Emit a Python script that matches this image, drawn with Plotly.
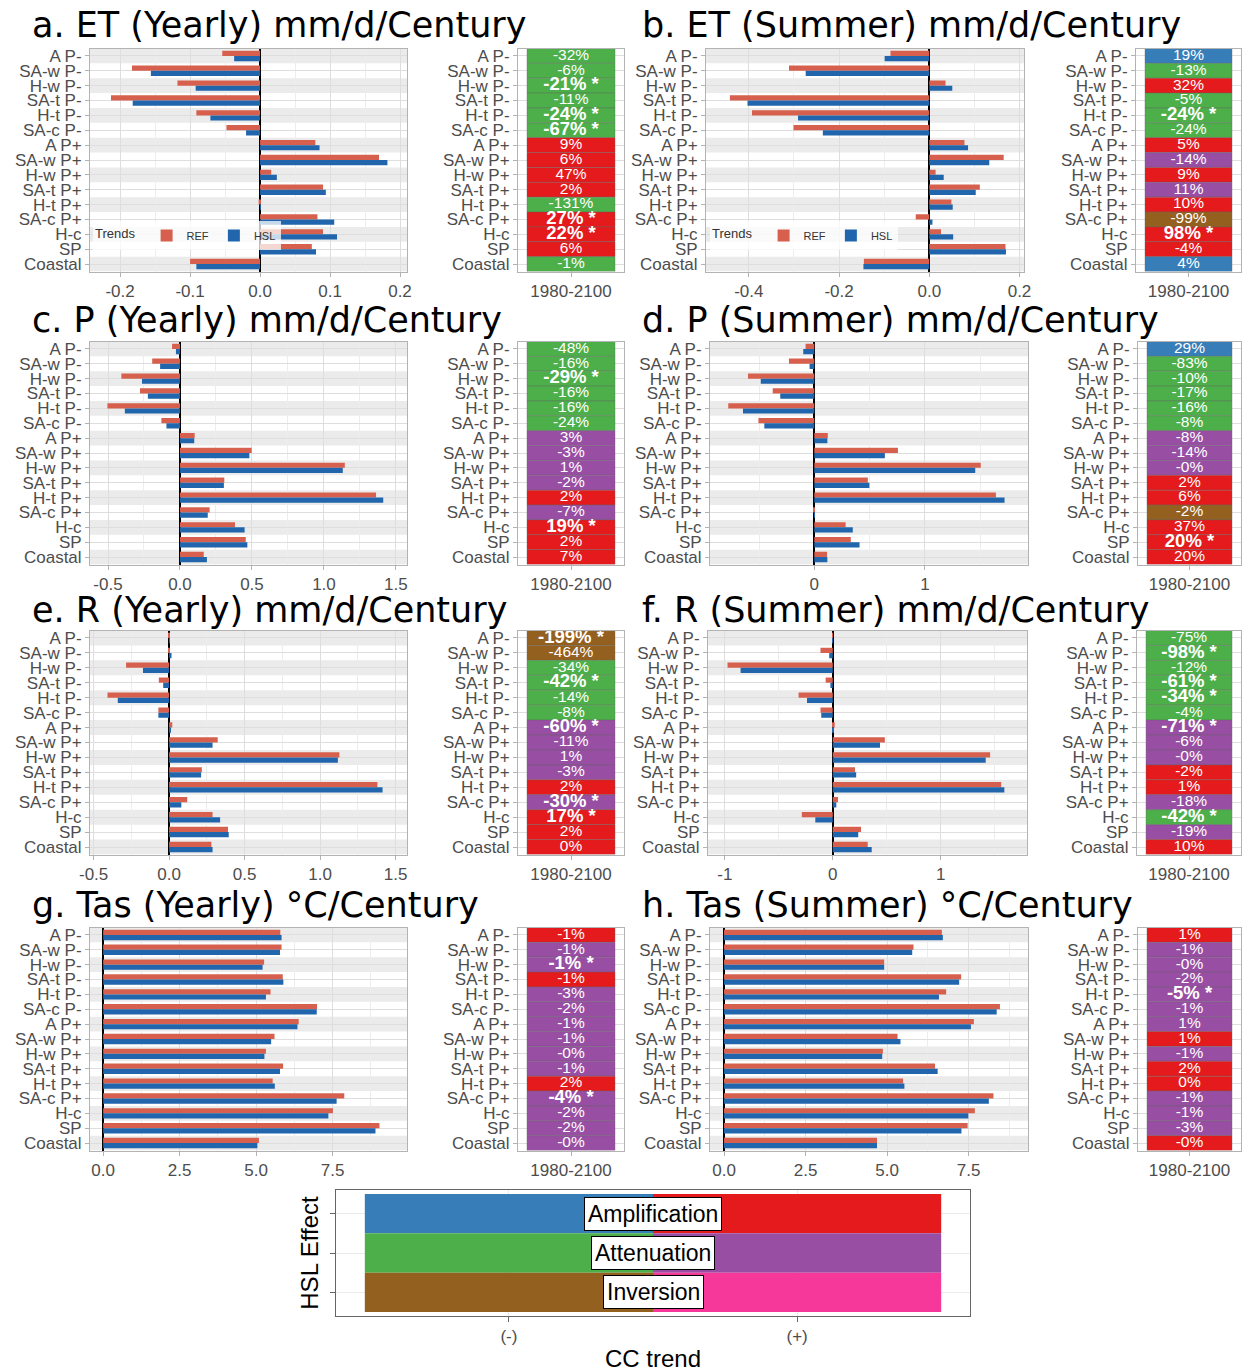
import plotly.graph_objects as go

W, H = 1242, 1372

categories = ["A P-", "SA-w P-", "H-w P-", "SA-t P-", "H-t P-", "SA-c P-",
              "A P+", "SA-w P+", "H-w P+", "SA-t P+", "H-t P+", "SA-c P+",
              "H-c", "SP", "Coastal"]
period_label = "1980-2100"

# ---- a. ET yearly ----
a_ref = [-0.054, -0.183, -0.118, -0.213, -0.091, -0.048, 0.079, 0.170, 0.016, 0.090, -0.002, 0.082, 0.090, 0.074, -0.100]
a_hsl = [-0.037, -0.156, -0.092, -0.182, -0.071, -0.020, 0.085, 0.182, 0.024, 0.094, 0.001, 0.106, 0.110, 0.080, -0.091]
a_pct = ["-32", "-6", "-21", "-11", "-24", "-67", "9", "6", "47", "2", "-131", "27", "22", "6", "-1"]
a_eff = ["G", "G", "G", "G", "G", "G", "R", "R", "R", "R", "G", "R", "R", "R", "G"]
a_sig = [0, 0, 1, 0, 1, 1, 0, 0, 0, 0, 0, 1, 1, 0, 0]

# ---- b. ET summer ----
b_ref = [-0.086, -0.311, 0.036, -0.442, -0.393, -0.301, 0.078, 0.165, 0.014, 0.112, 0.049, -0.030, 0.026, 0.169, -0.145]
b_hsl = [-0.099, -0.274, 0.051, -0.403, -0.291, -0.236, 0.086, 0.133, 0.032, 0.103, 0.052, 0.007, 0.053, 0.170, -0.146]
b_pct = ["19", "-13", "32", "-5", "-24", "-24", "5", "-14", "9", "11", "10", "-99", "98", "-4", "4"]
b_eff = ["B", "G", "R", "G", "G", "G", "R", "P", "R", "P", "R", "N", "R", "R", "B"]
b_sig = [0, 0, 0, 0, 1, 0, 0, 0, 0, 0, 0, 0, 1, 0, 0]

# ---- c. P yearly ----
c_ref = [-0.055, -0.193, -0.407, -0.278, -0.504, -0.129, 0.102, 0.498, 1.145, 0.308, 1.362, 0.206, 0.382, 0.457, 0.165]
c_hsl = [-0.028, -0.138, -0.264, -0.223, -0.383, -0.094, 0.099, 0.482, 1.131, 0.305, 1.412, 0.193, 0.449, 0.468, 0.187]
c_pct = ["-48", "-16", "-29", "-16", "-16", "-24", "3", "-3", "1", "-2", "2", "-7", "19", "2", "7"]
c_eff = ["G", "G", "G", "G", "G", "G", "P", "P", "P", "P", "R", "P", "R", "R", "R"]
c_sig = [0, 0, 1, 0, 0, 0, 0, 0, 0, 0, 0, 0, 1, 0, 0]

# ---- d. P summer ----
d_ref = [-0.079, -0.229, -0.599, -0.376, -0.778, -0.505, 0.122, 0.756, 1.505, 0.484, 1.642, -0.010, 0.283, 0.330, 0.115]
d_hsl = [-0.100, -0.043, -0.484, -0.308, -0.645, -0.452, 0.118, 0.638, 1.455, 0.498, 1.720, 0.002, 0.348, 0.409, 0.118]
d_pct = ["29", "-83", "-10", "-17", "-16", "-8", "-8", "-14", "-0", "2", "6", "-2", "37", "20", "20"]
d_eff = ["B", "G", "G", "G", "G", "G", "P", "P", "P", "R", "R", "N", "R", "R", "R"]
d_sig = [0, 0, 0, 0, 0, 0, 0, 0, 0, 0, 0, 0, 0, 1, 0]

# ---- e. R yearly ----
e_ref = [-0.002, -0.004, -0.285, -0.068, -0.408, -0.071, 0.021, 0.322, 1.128, 0.217, 1.380, 0.120, 0.288, 0.390, 0.280]
e_hsl = [0.002, 0.016, -0.173, -0.039, -0.340, -0.071, 0.008, 0.288, 1.118, 0.212, 1.414, 0.081, 0.338, 0.395, 0.288]
e_pct = ["-199", "-464", "-34", "-42", "-14", "-8", "-60", "-11", "1", "-3", "2", "-30", "17", "2", "0"]
e_eff = ["N", "N", "G", "G", "G", "G", "P", "P", "P", "P", "R", "P", "R", "R", "R"]
e_sig = [1, 0, 0, 1, 0, 0, 1, 0, 0, 0, 0, 1, 1, 0, 0]

# ---- f. R summer ----
f_ref = [-0.004, -0.114, -0.976, -0.066, -0.317, -0.114, 0.018, 0.483, 1.459, 0.206, 1.562, 0.048, -0.287, 0.262, 0.324]
f_hsl = [-0.001, -0.033, -0.855, -0.022, -0.239, -0.107, 0.005, 0.438, 1.418, 0.217, 1.591, 0.033, -0.162, 0.236, 0.361]
f_pct = ["-75", "-98", "-12", "-61", "-34", "-4", "-71", "-6", "-0", "-2", "1", "-18", "-42", "-19", "10"]
f_eff = ["G", "G", "G", "G", "G", "G", "P", "P", "P", "R", "R", "P", "G", "P", "R"]
f_sig = [0, 1, 0, 1, 1, 0, 1, 0, 0, 0, 0, 0, 1, 0, 0]

# ---- g. Tas yearly ----
g_ref = [5.79, 5.83, 5.26, 5.87, 5.47, 6.99, 6.39, 5.60, 5.32, 5.88, 5.54, 7.88, 7.51, 9.03, 5.09]
g_hsl = [5.83, 5.78, 5.21, 5.89, 5.32, 6.98, 6.35, 5.49, 5.27, 5.78, 5.61, 7.63, 7.36, 8.90, 5.04]
g_pct = ["-1", "-1", "-1", "-1", "-3", "-2", "-1", "-1", "-0", "-1", "2", "-4", "-2", "-2", "-0"]
g_eff = ["R", "P", "P", "R", "P", "P", "P", "P", "P", "P", "R", "P", "P", "P", "P"]
g_sig = [0, 0, 1, 0, 0, 0, 0, 0, 0, 0, 0, 1, 0, 0, 0]

# ---- h. Tas summer ----
h_ref = [6.68, 5.81, 4.91, 7.27, 6.81, 8.46, 7.66, 5.32, 4.87, 6.47, 5.49, 8.26, 7.69, 7.47, 4.69]
h_hsl = [6.71, 5.77, 4.91, 7.21, 6.59, 8.36, 7.57, 5.41, 4.85, 6.55, 5.53, 8.12, 7.49, 7.28, 4.69]
h_pct = ["1", "-1", "-0", "-2", "-5", "-1", "1", "1", "-1", "2", "0", "-1", "-1", "-3", "-0"]
h_eff = ["R", "P", "P", "P", "P", "P", "P", "R", "P", "R", "R", "P", "P", "P", "R"]
h_sig = [0, 0, 0, 0, 1, 0, 0, 0, 0, 0, 0, 0, 0, 0, 0]

# HSL effect legend
effects = ["Amplification", "Attenuation", "Inversion"]
cc_signs = ["(-)", "(+)"]
effect_codes = [["B", "R"], ["G", "P"], ["N", "K"]]

EFFECT_COLORS = {"B": "#377EB8", "R": "#E41A1C", "G": "#4DAF4A",
                 "P": "#984EA3", "N": "#94601F", "K": "#F5389A"}
REF_COLOR = "#D6604D"
HSL_COLOR = "#2166AC"

TICK_FONT = dict(family="Liberation Sans", size=17, color="#4D4D4D")
BORDER = "#B3B3B3"

panels = [
    dict(title="a. ET (Yearly) mm/d/Century", ref=a_ref, hsl=a_hsl, pct=a_pct, eff=a_eff, sig=a_sig,
         rng=[-0.243, 0.21], tv=[-0.2, -0.1, 0, 0.1, 0.2], tt=["-0.2", "-0.1", "0.0", "0.1", "0.2"], minor=0.05,
         bx=(90, 407), hx=(518, 624), row=0, tx=30, legend="legend"),
    dict(title="b. ET (Summer) mm/d/Century", ref=b_ref, hsl=b_hsl, pct=b_pct, eff=b_eff, sig=b_sig,
         rng=[-0.495, 0.21], tv=[-0.4, -0.2, 0, 0.2], tt=["-0.4", "-0.2", "0.0", "0.2"], minor=0.1,
         bx=(706, 1024), hx=(1136, 1241), row=0, tx=640, legend="legend2"),
    dict(title="c. P (Yearly) mm/d/Century", ref=c_ref, hsl=c_hsl, pct=c_pct, eff=c_eff, sig=c_sig,
         rng=[-0.625, 1.577], tv=[-0.5, 0, 0.5, 1, 1.5], tt=["-0.5", "0.0", "0.5", "1.0", "1.5"], minor=0.25,
         bx=(90, 407), hx=(518, 624), row=1, tx=30, legend=None),
    dict(title="d. P (Summer) mm/d/Century", ref=d_ref, hsl=d_hsl, pct=d_pct, eff=d_eff, sig=d_sig,
         rng=[-0.943, 1.932], tv=[0, 1], tt=["0", "1"], minor=0.5,
         bx=(710, 1028), hx=(1138, 1241), row=1, tx=640, legend=None),
    dict(title="e. R (Yearly) mm/d/Century", ref=e_ref, hsl=e_hsl, pct=e_pct, eff=e_eff, sig=e_sig,
         rng=[-0.524, 1.576], tv=[-0.5, 0, 0.5, 1, 1.5], tt=["-0.5", "0.0", "0.5", "1.0", "1.5"], minor=0.25,
         bx=(90, 407), hx=(518, 624), row=2, tx=30, legend=None),
    dict(title="f. R (Summer) mm/d/Century", ref=f_ref, hsl=f_hsl, pct=f_pct, eff=f_eff, sig=f_sig,
         rng=[-1.157, 1.801], tv=[-1, 0, 1], tt=["-1", "0", "1"], minor=0.5,
         bx=(708, 1027), hx=(1137, 1241), row=2, tx=640, legend=None),
    dict(title="g. Tas (Yearly) °C/Century", ref=g_ref, hsl=g_hsl, pct=g_pct, eff=g_eff, sig=g_sig,
         rng=[-0.43, 9.93], tv=[0, 2.5, 5, 7.5], tt=["0.0", "2.5", "5.0", "7.5"], minor=1.25,
         bx=(90, 407), hx=(518, 624), row=3, tx=30, legend=None),
    dict(title="h. Tas (Summer) °C/Century", ref=h_ref, hsl=h_hsl, pct=h_pct, eff=h_eff, sig=h_sig,
         rng=[-0.43, 9.32], tv=[0, 2.5, 5, 7.5], tt=["0.0", "2.5", "5.0", "7.5"], minor=1.25,
         bx=(710, 1028), hx=(1138, 1241), row=3, tx=640, legend=None),
]

ROW_Y = [(48.5, 271.5), (341.5, 564.5), (630.5, 854.5), (927.5, 1150.5)]
TITLE_Y = [25, 320, 610, 905]


def px_x(p):
    return p / W


def px_y(p):
    return 1 - p / H


def names(k):
    s = "" if k == 1 else str(k)
    return "xaxis" + s, "yaxis" + s, "x" + s, "y" + s


fig = go.Figure()
layout = {}
shapes = []
annotations = []
n = len(categories)
cat_idx = list(range(n))
k = 0

for p in panels:
    top, bot = ROW_Y[p["row"]]
    ydom = [px_y(bot), px_y(top)]

    # ---------- bar panel ----------
    k += 1
    xa, ya, xr, yr = names(k)
    layout[xa] = dict(domain=[px_x(p["bx"][0]), px_x(p["bx"][1])], anchor=yr, range=p["rng"],
                      automargin=False,
                      tickmode="array", tickvals=p["tv"], ticktext=p["tt"], tickfont=TICK_FONT,
                      showgrid=True, gridcolor="#DEDEDE", gridwidth=1,
                      minor=dict(tickmode="linear", tick0=0, dtick=p["minor"], showgrid=True,
                                 gridcolor="#EDEDED", gridwidth=0.6, ticks=""),
                      zeroline=True, zerolinecolor="black", zerolinewidth=2.2,
                      showline=True, mirror=True, linecolor=BORDER, linewidth=1,
                      ticks="outside", ticklen=4, tickcolor=BORDER, fixedrange=True)
    layout[ya] = dict(domain=ydom, anchor=xr, type="category", categoryorder="array",
                      categoryarray=categories, range=[n - 0.5, -0.5], tickfont=TICK_FONT,
                      automargin=False, tickmode="array", tickvals=categories, ticktext=categories,
                      showgrid=True, gridcolor="#DEDEDE", gridwidth=0.8,
                      showline=True, mirror=True, linecolor=BORDER, linewidth=1,
                      ticks="outside", ticklen=4, tickcolor=BORDER, fixedrange=True)
    for i in cat_idx[::2]:
        shapes.append(dict(type="rect", xref=xr + " domain", yref=yr, x0=0, x1=1,
                           y0=i - 0.5, y1=i + 0.5, fillcolor="#EBEBEB", line=dict(width=0),
                           layer="below"))
    show = p["legend"] is not None
    fig.add_trace(go.Bar(y=categories, x=p["ref"], orientation="h", name="REF",
                         marker=dict(color=REF_COLOR, line=dict(width=0)), xaxis=xr, yaxis=yr,
                         showlegend=show, legend=p["legend"] or "legend"))
    fig.add_trace(go.Bar(y=categories, x=p["hsl"], orientation="h", name="HSL",
                         marker=dict(color=HSL_COLOR, line=dict(width=0)), xaxis=xr, yaxis=yr,
                         showlegend=show, legend=p["legend"] or "legend"))

    annotations.append(dict(text=p["title"], xref="paper", yref="paper", x=px_x(p["tx"]),
                            y=px_y(TITLE_Y[p["row"]]), xanchor="left", yanchor="middle",
                            showarrow=False, font=dict(family="DejaVu Sans", size=35, color="black")))

    # ---------- percentage tile panel ----------
    k += 1
    xa, ya, xr, yr = names(k)
    hx0, hx1 = p["hx"]
    tile_w = (hx1 - hx0) - 18
    pad = 9 / tile_w
    layout[xa] = dict(domain=[px_x(hx0), min(px_x(hx1), 1)], anchor=yr, range=[-pad, 1 + pad],
                      automargin=False,
                      tickmode="array", tickvals=[0.5], ticktext=[period_label], tickfont=TICK_FONT,
                      showgrid=True, gridcolor="#DEDEDE", zeroline=False,
                      showline=True, mirror=True, linecolor=BORDER, linewidth=1,
                      ticks="outside", ticklen=4, tickcolor=BORDER, fixedrange=True)
    layout[ya] = dict(domain=ydom, anchor=xr, type="category", categoryorder="array",
                      categoryarray=categories, range=[n - 0.5, -0.5], tickfont=TICK_FONT,
                      automargin=False, tickmode="array", tickvals=categories, ticktext=categories,
                      showgrid=True, gridcolor="#DEDEDE",
                      showline=True, mirror=True, linecolor=BORDER, linewidth=1,
                      ticks="outside", ticklen=4, tickcolor=BORDER, fixedrange=True)
    fig.add_trace(go.Bar(y=categories, x=[1] * n, base=0, orientation="h", width=1,
                         marker=dict(color=[EFFECT_COLORS[e] for e in p["eff"]],
                                     line=dict(color="rgba(100,100,100,0.55)", width=0.7)),
                         xaxis=xr, yaxis=yr, showlegend=False, hoverinfo="skip"))
    norm_y = [c for c, s in zip(categories, p["sig"]) if not s]
    norm_t = [v + "%" for v, s in zip(p["pct"], p["sig"]) if not s]
    sig_y = [c for c, s in zip(categories, p["sig"]) if s]
    sig_t = ["<b>" + v + "% *</b>" for v, s in zip(p["pct"], p["sig"]) if s]
    fig.add_trace(go.Scatter(y=norm_y, x=[0.5] * len(norm_y), mode="text", text=norm_t,
                             textfont=dict(family="Liberation Sans", size=15.5, color="white"),
                             xaxis=xr, yaxis=yr, showlegend=False, hoverinfo="skip"))
    if sig_y:
        fig.add_trace(go.Scatter(y=sig_y, x=[0.5] * len(sig_y), mode="text", text=sig_t,
                                 textfont=dict(family="Liberation Sans", size=18.5, color="white"),
                                 xaxis=xr, yaxis=yr, showlegend=False, hoverinfo="skip"))

# ---------- HSL effect legend panel ----------
k += 1
xa, ya, xr, yr = names(k)
layout[xa] = dict(domain=[px_x(336), px_x(970)], anchor=yr, range=[0.4, 2.6], automargin=False,
                  tickmode="array", tickvals=[1, 2], ticktext=cc_signs, tickfont=TICK_FONT,
                  showgrid=True, gridcolor="#EBEBEB", zeroline=False,
                  showline=True, mirror=True, linecolor="#666666", linewidth=1,
                  ticks="outside", ticklen=5, tickcolor="#666666",
                  title=dict(text="CC trend", font=dict(family="Liberation Sans", size=24, color="black"),
                             standoff=4), fixedrange=True)
layout[ya] = dict(domain=[px_y(1316), px_y(1190)], anchor=xr, type="category", categoryorder="array",
                  categoryarray=effects, range=[2.6, -0.6], showticklabels=False, automargin=False,
                  showgrid=True, gridcolor="#EBEBEB",
                  showline=True, mirror=True, linecolor="#666666", linewidth=1,
                  ticks="outside", ticklen=5, tickcolor="#666666",
                  title=dict(text="HSL Effect", font=dict(family="Liberation Sans", size=24, color="black"),
                             standoff=4), fixedrange=True)
leg_y, leg_base, leg_col = [], [], []
for e, codes in zip(effects, effect_codes):
    for j, code in enumerate(codes):
        leg_y.append(e)
        leg_base.append(j + 0.5)
        leg_col.append(EFFECT_COLORS[code])
fig.add_trace(go.Bar(y=leg_y, x=[1] * len(leg_y), base=leg_base, orientation="h", width=1,
                     marker=dict(color=leg_col, line=dict(width=0)), xaxis=xr, yaxis=yr,
                     showlegend=False, hoverinfo="skip"))
for e in effects:
    annotations.append(dict(text=e, xref=xr, yref=yr, x=1.5, y=e, showarrow=False,
                            font=dict(family="Liberation Sans", size=23, color="black"),
                            bgcolor="white", bordercolor="black", borderwidth=1, borderpad=3))

legend_common = dict(orientation="h", xanchor="left", yanchor="top",
                     bgcolor="rgba(255,255,255,0.75)", borderwidth=0,
                     font=dict(family="Liberation Sans", size=11, color="#333333"),
                     title=dict(text="Trends ", font=dict(family="Liberation Sans", size=13, color="#333333")),
                     itemwidth=30, tracegroupgap=0)

fig.update_layout(
    width=W, height=H, margin=dict(l=0, r=0, t=0, b=0, autoexpand=False),
    paper_bgcolor="white", plot_bgcolor="white",
    barmode="group", bargap=0.3, bargroupgap=0,
    shapes=shapes, annotations=annotations,
    legend=dict(x=px_x(93), y=px_y(221), **legend_common),
    legend2=dict(x=px_x(710), y=px_y(221), **legend_common),
    **layout,
)

fig.write_html("out.html", config={"displayModeBar": False},
               post_script=["document.body.style.margin='0px';"])
